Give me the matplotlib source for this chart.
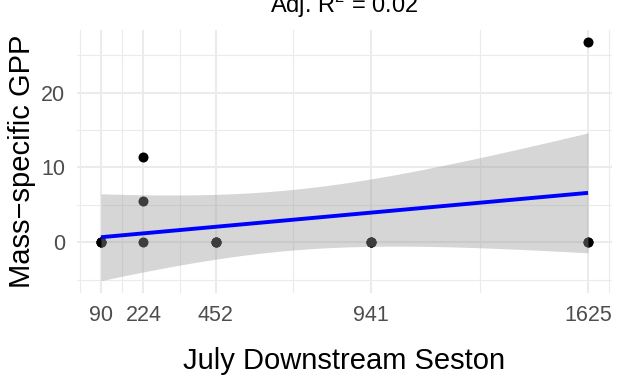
import math
import numpy as np
import matplotlib
matplotlib.use("Agg")
import matplotlib.pyplot as plt

# July downstream seston (x) vs mass-specific GPP (y); many sites share x and y = 0
seston = [90, 90, 90, 224, 224, 224, 452, 452, 452, 941, 941, 941, 1625, 1625, 1625]
gpp = [0, 0, 0, 0, 5.57, 11.44, 0, 0, 0, 0, 0, 0, 0, 0, 26.77]
x_breaks = [90, 224, 452, 941, 1625]
y_breaks = [0, 10, 20]
title = "Adj. R$^2$ = 0.02"
x_title = "July Downstream Seston"
y_title = "Mass\u2212specific GPP"

plt.rcParams["font.family"] = ["Liberation Sans", "DejaVu Sans"]
plt.rcParams["mathtext.fontset"] = "custom"
plt.rcParams["mathtext.rm"] = "Liberation Sans"


def t_quantile(df, p=0.975):
    """Student t quantile by integrating the density."""
    c = math.gamma((df + 1) / 2) / (math.sqrt(df * math.pi) * math.gamma(df / 2))
    g = np.linspace(0, 30, 300001)
    pdf = c * (1 + g ** 2 / df) ** (-(df + 1) / 2)
    cdf = np.concatenate([[0.0], np.cumsum((pdf[1:] + pdf[:-1]) / 2 * np.diff(g))])
    return float(np.interp(p - 0.5, cdf, g))


x = np.asarray(seston, dtype=float)
y = np.asarray(gpp, dtype=float)
n = len(x)
mx, my = x.mean(), y.mean()
sxx = ((x - mx) ** 2).sum()
slope = ((x - mx) * (y - my)).sum() / sxx
icpt = my - slope * mx
resid = y - (icpt + slope * x)
s = math.sqrt((resid ** 2).sum() / (n - 2))
tq = t_quantile(n - 2)

xg = np.linspace(x.min(), x.max(), 80)
fit = icpt + slope * xg
half = tq * s * np.sqrt(1 / n + (xg - mx) ** 2 / sxx)
lo, hi = fit - half, fit + half

W, H = 624, 379
fig = plt.figure(figsize=(W / 100, H / 100), dpi=100)
left, right = 76.6 / W, 612.4 / W
bottom, top = 1 - 292.6 / H, 1 - 29.8 / H
ax = fig.add_axes([left, bottom, right - left, top - bottom])

# ggplot-like limits: 5% expansion of data + ribbon range
xr = x.max() - x.min()
ax.set_xlim(x.min() - 0.05 * xr, x.max() + 0.05 * xr)
ymin = min(y.min(), lo.min())
ymax = max(y.max(), hi.max())
yr = ymax - ymin
ax.set_ylim(ymin - 0.05 * yr, ymax + 0.05 * yr)

# minor breaks at midpoints, extended one step beyond the ends
b = list(x_breaks)
bd = b[1] - b[0]
ext = [b[0] - bd] + b + [b[-1] + bd]
x_minor = [(p + q) / 2 for p, q in zip(ext[:-1], ext[1:])]
yb = list(y_breaks)
ybd = yb[1] - yb[0]
yext = [yb[0] - ybd] + yb + [yb[-1] + ybd]
y_minor = [(p + q) / 2 for p, q in zip(yext[:-1], yext[1:])]

ax.set_xticks(x_breaks)
ax.set_yticks(y_breaks)
ax.set_xticks(x_minor, minor=True)
ax.set_yticks(y_minor, minor=True)
ax.grid(which="major", color="#ebebeb", linewidth=1.5)
ax.grid(which="minor", color="#ebebeb", linewidth=0.8)
ax.set_axisbelow(True)
ax.tick_params(which="both", length=0)
ax.tick_params(axis="x", labelsize=15.5, labelcolor="#4d4d4d", pad=9)
ax.tick_params(axis="y", labelsize=15.5, labelcolor="#4d4d4d", pad=8)
for sp in ax.spines.values():
    sp.set_visible(False)

ax.scatter(x, y, s=52, color="black", linewidths=0, zorder=2)
ax.fill_between(xg, lo, hi, color="#999999", alpha=0.4, linewidth=0, zorder=3)
ax.plot(xg, fit, color="blue", linewidth=2.8, zorder=4, solid_capstyle="butt")

ax.set_xlabel(x_title, fontsize=21, color="black")
ax.xaxis.set_label_coords(0.5, -(369.3 - 292.6) / (292.6 - 29.8))
ax.xaxis.label.set_va("baseline")
ax.set_ylabel(y_title, fontsize=21, color="black")
ax.yaxis.set_label_coords((22 - 76.6) / (612.4 - 76.6), 0.5)
ax.yaxis.label.set_va("center")

fig.text((left + right) / 2, 1 - 12.7 / H, title, ha="center", va="baseline", fontsize=17)

fig.savefig("out.png", dpi=100)
